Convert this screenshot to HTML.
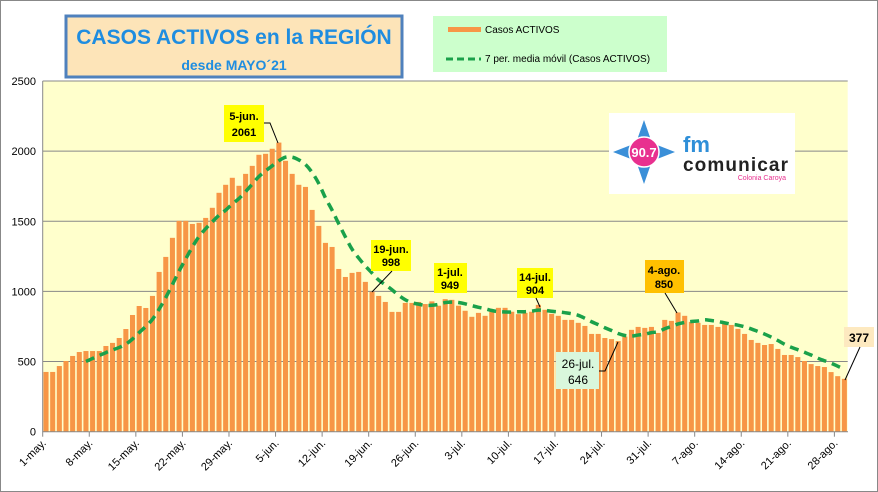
<!DOCTYPE html>
<html><head><meta charset="utf-8"><style>
html,body{margin:0;padding:0;background:#fff}
svg{display:block}
text{font-family:"Liberation Sans",Arial,sans-serif}
</style></head><body>
<svg id="s" width="878" height="492" viewBox="0 0 878 492" xmlns="http://www.w3.org/2000/svg">
<rect x="0.5" y="0.5" width="877" height="491" fill="#fff" stroke="#888"/>
<rect x="42.7" y="81" width="805" height="350.7" fill="#ffffcc"/>
<g id="grid" stroke="#888" stroke-width="1"></g>
<g id="bars" fill="#f79646"></g>
<path id="ma" fill="none" stroke="#1aa14a" stroke-width="3.5" stroke-dasharray="9,6"/>
<g id="axis" font-size="11" fill="#000"></g>
<line x1="42.7" y1="81" x2="42.7" y2="432" stroke="#888"/>
<line x1="42.7" y1="431.7" x2="848" y2="431.7" stroke="#888"/>
<!-- title -->
<rect x="66" y="16" width="336" height="61" fill="#fde4b8" stroke="#4f81bd" stroke-width="3"/>
<text x="234" y="44" text-anchor="middle" font-size="21" font-weight="bold" fill="#1f8de0">CASOS ACTIVOS en la REGIÓN</text>
<text x="234" y="70" text-anchor="middle" font-size="14" font-weight="bold" fill="#1f8de0">desde MAYO´21</text>
<!-- legend -->
<rect x="433" y="16" width="234" height="56" fill="#ccffcc"/>
<rect x="448" y="27" width="33" height="5" fill="#f79646"/>
<text x="485" y="33" font-size="10">Casos ACTIVOS</text>
<line x1="446" y1="59" x2="481" y2="59" stroke="#1aa14a" stroke-width="3" stroke-dasharray="7,4"/>
<text x="485" y="62" font-size="10">7 per. media móvil (Casos ACTIVOS)</text>
<!-- logo -->
<rect x="609" y="113" width="186" height="81" fill="#fff"/>
<polygon points="644,120 652,143 675,152 652,161 644,184 636,161 613,152 636,143" fill="#3a8fd8"/>
<circle cx="644" cy="152" r="15" fill="#e8308f" stroke="#fff" stroke-width="1.5"/>
<text x="644" y="157" text-anchor="middle" font-size="13" font-weight="bold" fill="#fff">90.7</text>
<text x="683" y="152" font-size="22" font-weight="bold" fill="#2f8fd8">fm</text>
<text x="683" y="171" font-size="19" font-weight="bold" fill="#222" textLength="105">comunicar</text>
<text x="786" y="180" text-anchor="end" font-size="7" fill="#e8308f">Colonia Caroya</text>
<!-- annotations -->
<g font-size="11" font-weight="bold" text-anchor="middle" stroke-width="1">
<rect x="224" y="105" width="40" height="37" fill="#ffff00"/><text x="244" y="120">5-jun.</text><text x="244" y="136">2061</text>
<polyline points="264,123 270,123 278,143" fill="none" stroke="#000"/>
<rect x="371" y="240" width="40" height="31" fill="#ffff00"/><text x="391" y="253">19-jun.</text><text x="391" y="266">998</text>
<line x1="392" y1="271" x2="372" y2="292" stroke="#000"/>
<rect x="434" y="263" width="33" height="30" fill="#ffff00"/><text x="450" y="276">1-jul.</text><text x="450" y="289">949</text>
<rect x="517" y="268" width="36" height="30" fill="#ffff00"/><text x="535" y="281">14-jul.</text><text x="535" y="294">904</text>
<line x1="536" y1="298" x2="540" y2="307" stroke="#000"/>
<rect x="645" y="260" width="39" height="33" fill="#ffc000"/><text x="664" y="274">4-ago.</text><text x="664" y="288">850</text>
<line x1="665" y1="293" x2="677" y2="313" stroke="#000"/>
<rect x="556" y="352" width="43" height="37" fill="#d9f7dc"/><text x="578" y="368" font-weight="normal" font-size="12">26-jul.</text><text x="578" y="384" font-weight="normal" font-size="12">646</text>
<polyline points="599,371 605,371 618,342" fill="none" stroke="#000"/>
<rect x="844" y="327" width="30" height="20" fill="#fde9c0"/><text x="859" y="342" font-size="12">377</text>
<line x1="860" y1="347" x2="845" y2="380" stroke="#000"/>
</g>
</svg>
<script>
var v=[426,426,468,504,540,568,575,575,575,611,633,668,732,832,896,882,968,1139,1246,1382,1503,1503,1481,1489,1524,1596,1703,1760,1810,1753,1838,1895,1974,1981,2017,2061,1931,1838,1760,1745,1581,1467,1346,1317,1160,1103,1132,1139,1068,998,968,925,854,854,918,918,925,910,
929,898,945,940,898,862,819,847,826,855,883,883,855,838,847,855,904,869,840,826,797,797,776,754,697,697,668,660,646,678,726,747,740,747,704,797,790,850,
826,783,776,761,761,747,776,761,733,697,654,633,618,625,590,547,547,532,504,482,468,461,425,396,377];
var NS="http://www.w3.org/2000/svg",x0=42.7,w=(847.7-42.7)/v.length,y0=431.7,k=350.7/2500;
function el(t,a,p){var e=document.createElementNS(NS,t);for(var q in a)e.setAttribute(q,a[q]);p.appendChild(e);return e;}
var g=document.getElementById('grid'),b=document.getElementById('bars'),ax=document.getElementById('axis');
for(var j=1;j<=5;j++){var y=y0-j*500*k;el('line',{x1:x0,x2:847.7,y1:y,y2:y},g);}
for(var j=0;j<=5;j++){var t=el('text',{x:36,y:y0-j*500*k+4,'text-anchor':'end'},ax);t.textContent=j*500;}
for(var i=0;i<v.length;i++){el('rect',{x:x0+i*w+0.8,y:y0-v[i]*k,width:w-1.6,height:v[i]*k},b);}
var labs=["1-may.","8-may.","15-may.","22-may.","29-may.","5-jun.","12-jun.","19-jun.","26-jun.","3-jul.","10-jul.","17-jul.","24-jul.","31-jul.","7-ago.","14-ago.","21-ago.","28-ago."];
for(var j=0;j<labs.length;j++){var xx=x0+j*7*w;el('line',{x1:xx,x2:xx,y1:y0,y2:y0+5,stroke:'#888'},ax);
var t=el('text',{x:xx+4,y:y0+12,'text-anchor':'end',transform:'rotate(-45 '+(xx+4)+' '+(y0+12)+')'},ax);t.textContent=labs[j];}
var pts=[];for(var i=6;i<v.length;i++){var s=0;for(var m=i-6;m<=i;m++)s+=v[m];pts.push([x0+(i+0.5)*w,y0-s/7*k]);}
var d="M"+pts[0][0]+","+pts[0][1];
for(var i=0;i<pts.length-1;i++){var p0=pts[Math.max(0,i-1)],p1=pts[i],p2=pts[i+1],p3=pts[Math.min(pts.length-1,i+2)];
d+=" C"+(p1[0]+(p2[0]-p0[0])/6)+","+(p1[1]+(p2[1]-p0[1])/6)+" "+(p2[0]-(p3[0]-p1[0])/6)+","+(p2[1]-(p3[1]-p1[1])/6)+" "+p2[0]+","+p2[1];}
document.getElementById('ma').setAttribute('d',d);
</script>
</body></html>
